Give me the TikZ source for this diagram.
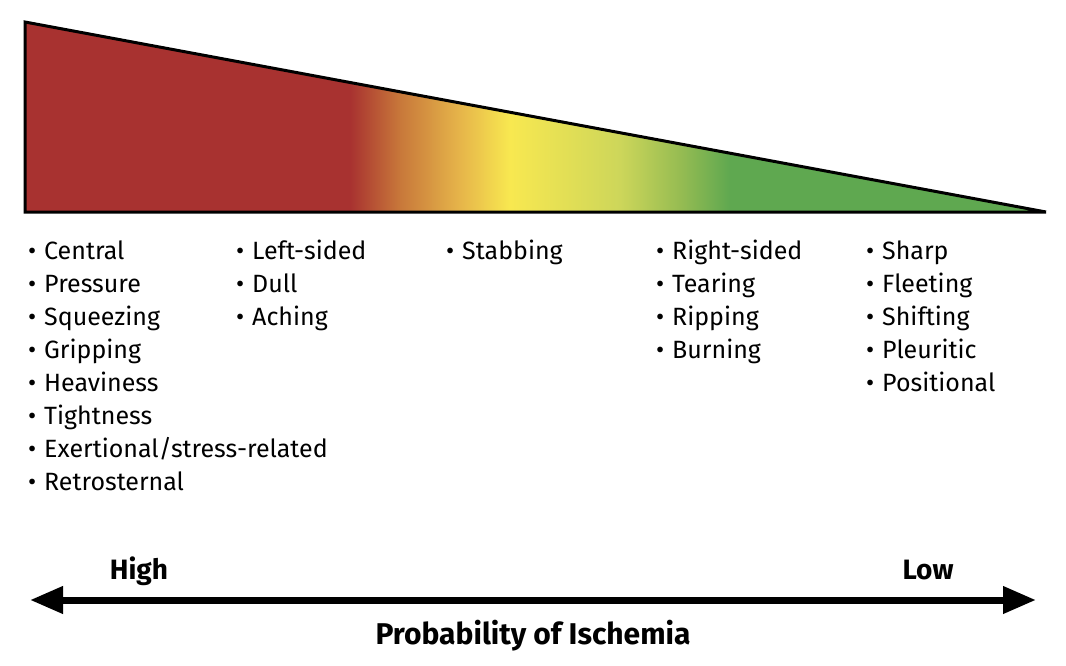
\documentclass[tikz,border=0pt]{standalone}
\usepackage{fontspec}
\setmainfont{Fira Sans}
\usetikzlibrary{arrows.meta}

\definecolor{ischRed}{HTML}{A83230}
\definecolor{ischOrange}{HTML}{C8783A}
\definecolor{ischAmber}{HTML}{E6B54A}
\definecolor{ischYellow}{HTML}{F8E850}
\definecolor{ischLime}{HTML}{CDD65A}
\definecolor{ischLeaf}{HTML}{96BC52}
\definecolor{ischGreen}{HTML}{5FA850}

\pgfdeclarehorizontalshading{ischemia}{100bp}{color(0bp)=(ischRed); color(40.92bp)=(ischRed); color(43.37bp)=(ischOrange); color(46.30bp)=(ischAmber); color(48.75bp)=(ischYellow); color(54.14bp)=(ischLime); color(57.08bp)=(ischLeaf); color(59.52bp)=(ischGreen); color(100bp)=(ischGreen)}

\begin{document}
\begin{tikzpicture}[
        x=1pt, y=-1pt,
        item/.style={anchor=base west, inner sep=0pt, font=\fontsize{25}{29}\selectfont},
        scaleLabel/.style={anchor=base, inner sep=0pt, font=\fontsize{28}{32}\selectfont\bfseries},
        probArrow/.style={line width=7pt, {Triangle[length=33pt,width=26pt]}-{Triangle[length=33pt,width=26pt]}}
    ]
        \useasboundingbox (0,0) rectangle (1066,666);

        % Wedge
        \coordinate (topL) at (25,22);
        \coordinate (botL) at (25,212);
        \coordinate (tip) at (1046,212);
        \shade[shading=ischemia] (topL) -- (botL) -- (tip) -- cycle;
        \draw[line width=3pt, line join=miter] (topL) -- (botL) -- (tip) -- cycle;

        % Descriptor columns
        \foreach \t [count=\i] in {Central, Pressure, Squeezing, Gripping, Heaviness, Tightness, Exertional/stress-related, Retrosternal}
            \node[item] (colA-\i) at (28,{259+33*(\i-1)}) {\makebox[16pt][l]{•}\t};
        \foreach \t [count=\i] in {Left-sided, Dull, Aching}
            \node[item] (colB-\i) at (236,{259+33*(\i-1)}) {\makebox[16pt][l]{•}\t};
        \foreach \t [count=\i] in {Stabbing}
            \node[item] (colC-\i) at (446,{259+33*(\i-1)}) {\makebox[16pt][l]{•}\t};
        \foreach \t [count=\i] in {Right-sided, Tearing, Ripping, Burning}
            \node[item] (colD-\i) at (656,{259+33*(\i-1)}) {\makebox[16pt][l]{•}\t};
        \foreach \t [count=\i] in {Sharp, Fleeting, Shifting, Pleuritic, Positional}
            \node[item] (colE-\i) at (866,{259+33*(\i-1)}) {\makebox[16pt][l]{•}\t};

        % Probability scale
        \node[scaleLabel] (high) at (139,579) {High};
        \node[scaleLabel] (low) at (928,579) {Low};
        \coordinate (highEnd) at (30,600);
        \coordinate (lowEnd) at (1036,600);
        \draw[probArrow] (highEnd) -- (lowEnd);
        \node[scaleLabel, font=\fontsize{30}{34}\selectfont\bfseries] (prob) at (533,644) {Probability of Ischemia};
\end{tikzpicture}
\end{document}
